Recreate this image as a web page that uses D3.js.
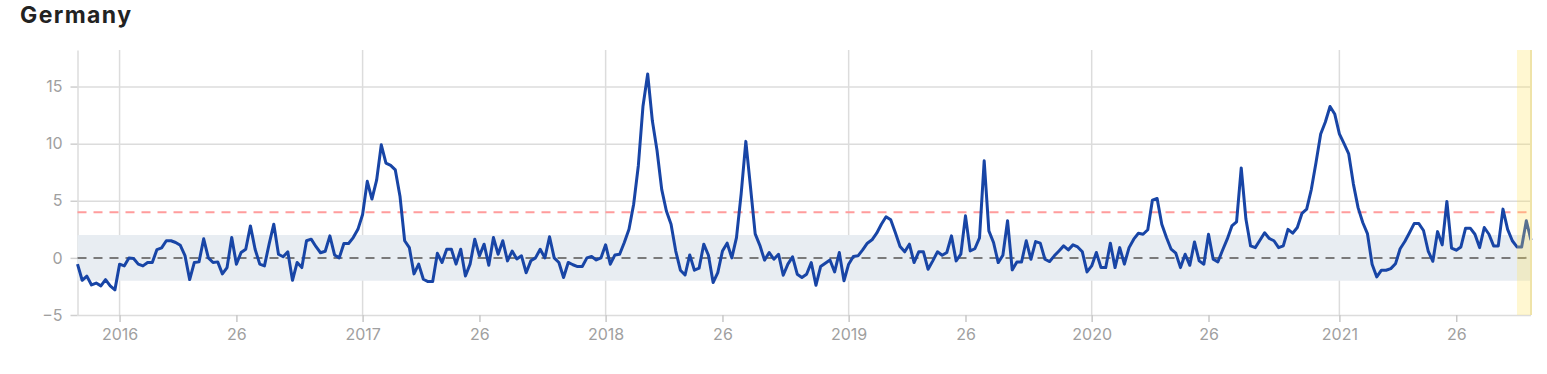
<!DOCTYPE html>
<html>
<head>
<meta charset="utf-8">
<script src="https://cdn.jsdelivr.net/npm/d3@7"></script>
<style>
  body { margin: 0; background: #fff; }
  text { font-family: Inter, "Noto Sans", sans-serif; }
</style>
</head>
<body>
<script>
// weekly values, first point is ISO week 2015-W45 (Monday 2015-11-02)
const firstWeek = "2015-11-02"
const values = [
  -0.55, -1.96, -1.6, -2.37, -2.2, -2.45, -1.9, -2.45, -2.8, -0.55,
  -0.7, 0, -0.05, -0.55, -0.7, -0.4, -0.4, 0.73, 0.88, 1.5,
  1.5, 1.35, 1.1, 0.2, -1.9, -0.4, -0.35, 1.67, 0, -0.4,
  -0.35, -1.4, -0.85, 1.78, -0.55, 0.47, 0.76, 2.8, 0.76, -0.55,
  -0.7, 1.2, 2.95, 0.32, 0.1, 0.53, -1.96, -0.4, -0.85, 1.5,
  1.64, 1.0, 0.45, 0.58, 1.93, 0.26, 0, 1.26, 1.26, 1.78,
  2.5, 3.8, 6.7, 5.15, 6.8, 9.9, 8.3, 8.1, 7.7, 5.4,
  1.5, 0.9, -1.4, -0.55, -1.87, -2.07, -2.07, 0.4, -0.4, 0.76,
  0.76, -0.55, 0.76, -1.58, -0.55, 1.64, 0.18, 1.2, -0.64, 1.78,
  0.32, 1.5, -0.26, 0.6, -0.1, 0.18, -1.3, -0.26, 0, 0.76,
  0, 1.85, 0, -0.4, -1.72, -0.4, -0.6, -0.76, -0.76, 0,
  0.12, -0.18, 0, 1.14, -0.55, 0.26, 0.32, 1.35, 2.5, 4.7,
  8.07, 13.3, 16.1, 12, 9.4, 6.0, 4.1, 2.95, 0.6, -1.08,
  -1.5, 0.26, -1.08, -0.9, 1.2, 0.23, -2.16, -1.29, 0.6, 1.29,
  0, 1.78, 5.6, 10.2, 6.2, 2.1, 1.1, -0.2, 0.47, -0.12,
  0.32, -1.52, -0.55, 0.09, -1.43, -1.72, -1.43, -0.41, -2.4, -0.76,
  -0.47, -0.18, -1.23, 0.47, -2.0, -0.55, 0.12, 0.18, 0.7, 1.29,
  1.58, 2.16, 2.95, 3.6, 3.33, 2.2, 1.0, 0.53, 1.2, -0.41,
  0.53, 0.53, -1.0, -0.26, 0.53, 0.23, 0.47, 1.93, -0.26, 0.32,
  3.68, 0.61, 0.8, 1.75, 8.5, 2.37, 1.35, -0.41, 0.23, 3.25,
  -1.05, -0.35, -0.35, 1.5, -0.12, 1.43, 1.29, -0.12, -0.32, 0.18,
  0.61, 1.05, 0.7, 1.14, 0.96, 0.53, -1.23, -0.7, 0.47, -0.85,
  -0.85, 1.29, -0.85, 0.9, -0.55, 0.9, 1.64, 2.16, 2.07, 2.46,
  5.06, 5.2, 2.95, 1.78, 0.76, 0.41, -0.85, 0.32, -0.65, 1.4,
  -0.26, -0.55, 2.07, -0.12, -0.35, 0.67, 1.64, 2.8, 3.16, 7.87,
  3.4, 1.05, 0.9, 1.55, 2.2, 1.7, 1.5, 0.9, 1.05, 2.5,
  2.16, 2.66, 3.9, 4.27, 6.0, 8.36, 10.85, 11.9, 13.25, 12.6,
  10.85, 10.0, 9.1, 6.46, 4.4, 3.1, 2.13, -0.55, -1.67, -1.08,
  -1.08, -0.94, -0.52, 0.8, 1.43, 2.2, 3.0, 3.0, 2.4, 0.6,
  -0.3, 2.3, 1.14, 4.94, 0.85, 0.67, 0.96, 2.6, 2.6, 2.07,
  0.9, 2.66, 2.07, 1.05, 1.05, 4.27, 2.5, 1.5, 0.96, 0.96,
  3.25, 1.55
]
const tickYears = [2016, 2017, 2018, 2019, 2020, 2021]
const midWeek = 26
const yTicks = [-5, 0, 5, 10, 15]
const yMax = 18.2
const normalBand = [-2, 2]
const threshold = 4
const highlightWeeks = 3

const width = 1547
const height = 374
const plotLeft = 77.5
const plotRight = 1531
const plotTop = 50
const plotBottom = 315

const start = new Date(firstWeek + "T00:00:00Z")
const data = values.map((v, i) => ({ date: d3.utcWeek.offset(start, i), value: v }))

// monday of ISO week 1
const isoWeek1 = yr => d3.utcMonday.floor(new Date(Date.UTC(yr, 0, 4)))
const ticks = []
tickYears.forEach(yr => {
  ticks.push({ date: isoWeek1(yr), label: String(yr), year: true })
  ticks.push({ date: d3.utcWeek.offset(isoWeek1(yr), midWeek - 1), label: String(midWeek), year: false })
})
const tickLabel = new Map(ticks.map(t => [+t.date, t.label]))

const x = d3.scaleUtc()
  .domain(d3.extent(data, d => d.date))
  .range([plotLeft, plotRight])

const y = d3.scaleLinear()
  .domain([-5, yMax])
  .range([plotBottom, plotTop])

const svg = d3.select('body').append('svg')
  .attr('width', width)
  .attr('height', height)

svg.append('text')
  .attr('x', 20)
  .attr('y', 23)
  .attr('fill', '#222')
  .attr('font-size', 23)
  .attr('font-weight', 700)
  .attr('letter-spacing', 1.4)
  .text('Germany')

// grid
svg.append('g')
  .selectAll('line')
  .data(ticks.filter(t => t.year))
  .join('line')
  .attr('x1', d => x(d.date)).attr('x2', d => x(d.date))
  .attr('y1', plotTop).attr('y2', plotBottom)
  .attr('stroke', '#dcdcdc')
  .attr('stroke-width', 1.5)

const yAxis = d3.axisLeft(y).tickValues(yTicks).tickSize(7).tickSizeOuter(0).tickPadding(8)
const gy = svg.append('g')
  .attr('transform', `translate(${plotLeft},0)`)
  .call(yAxis)
gy.select('.domain').attr('stroke', '#dcdcdc').attr('stroke-width', 1.5)
gy.selectAll('.tick line').attr('stroke', '#cfcfcf').attr('stroke-width', 1.5)
gy.selectAll('.tick').append('line')
  .attr('x2', plotRight - plotLeft)
  .attr('stroke', '#dcdcdc')
  .attr('stroke-width', 1.5)
gy.selectAll('text').attr('fill', '#a0a0a0').attr('font-size', 16).attr('font-family', 'Inter, sans-serif')

// normal range band
svg.append('rect')
  .attr('x', plotLeft)
  .attr('y', y(normalBand[1]))
  .attr('width', plotRight - plotLeft)
  .attr('height', y(normalBand[0]) - y(normalBand[1]))
  .attr('fill', '#e8edf2')

svg.append('line')
  .attr('x1', plotLeft).attr('x2', plotRight)
  .attr('y1', y(threshold)).attr('y2', y(threshold))
  .attr('stroke', '#ff9c9c')
  .attr('stroke-width', 2)
  .attr('stroke-dasharray', '9,7')

svg.append('line')
  .attr('x1', plotLeft).attr('x2', plotRight)
  .attr('y1', y(0)).attr('y2', y(0))
  .attr('stroke', '#7a7a7a')
  .attr('stroke-width', 2)
  .attr('stroke-dasharray', '9,7')

const xAxis = d3.axisBottom(x)
  .tickValues(ticks.map(t => t.date))
  .tickSize(7)
  .tickSizeOuter(0)
  .tickPadding(7)
  .tickFormat(d => tickLabel.get(+d))
const gx = svg.append('g')
  .attr('transform', `translate(0,${plotBottom})`)
  .call(xAxis)
gx.select('.domain').remove()
gx.selectAll('.tick line').attr('stroke', '#c8c8c8').attr('stroke-width', 1.5)
gx.selectAll('text').attr('fill', '#a0a0a0').attr('font-size', 16).attr('font-family', 'Inter, sans-serif')

svg.append('path')
  .datum(data)
  .attr('fill', 'none')
  .attr('stroke', '#1845a6')
  .attr('stroke-width', 3)
  .attr('stroke-linejoin', 'round')
  .attr('d', d3.line().x(d => x(d.date)).y(d => y(d.value)))

// latest weeks highlight
const hl0 = data[data.length - 1 - highlightWeeks].date
const hl1 = data[data.length - 1].date
svg.append('rect')
  .attr('x', x(hl0))
  .attr('y', plotTop)
  .attr('width', x(hl1) - x(hl0))
  .attr('height', plotBottom - plotTop)
  .attr('fill', 'rgb(255, 228, 90)')
  .attr('fill-opacity', 0.28)
svg.append('line')
  .attr('x1', x(hl1)).attr('x2', x(hl1))
  .attr('y1', plotTop).attr('y2', plotBottom)
  .attr('stroke', '#efe3a8')
  .attr('stroke-width', 2)
</script>
</body>
</html>
